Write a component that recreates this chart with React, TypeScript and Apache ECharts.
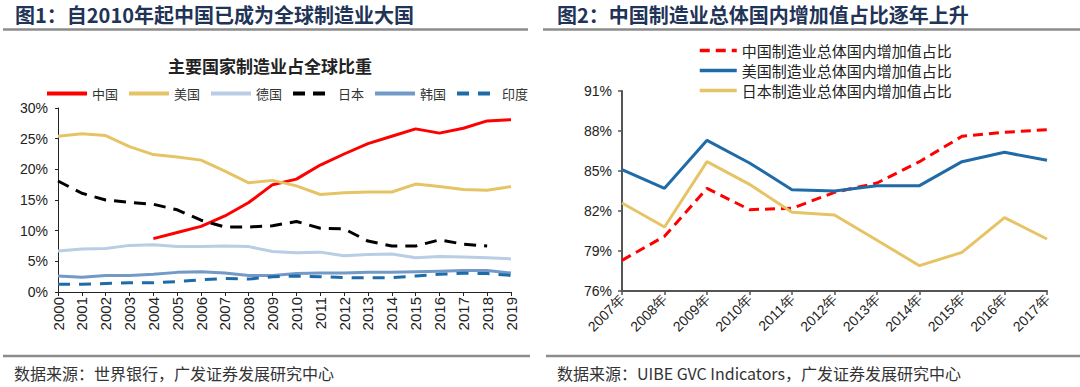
import React, { useEffect, useRef } from "react";
import * as echarts from "echarts";

const years1 = ["2000","2001","2002","2003","2004","2005","2006","2007","2008","2009","2010","2011","2012","2013","2014","2015","2016","2017","2018","2019"];
const china = [null,null,null,null,8.7,9.7,10.7,12.4,14.6,17.5,18.4,20.7,22.5,24.2,25.4,26.6,25.9,26.7,27.9,28.1];
const usa = [25.4,25.8,25.5,23.7,22.4,22.0,21.5,19.7,17.8,18.2,17.3,15.9,16.2,16.3,16.3,17.6,17.2,16.7,16.6,17.2];
const germany = [6.7,7.0,7.1,7.6,7.7,7.4,7.4,7.5,7.4,6.6,6.4,6.5,5.9,6.1,6.2,5.6,5.8,5.7,5.6,5.4];
const japan = [18.1,16.1,15.0,14.6,14.3,13.4,11.7,10.6,10.6,10.8,11.5,10.4,10.3,8.3,7.5,7.5,8.5,7.8,7.5,null];
const korea = [2.6,2.4,2.7,2.7,2.9,3.2,3.3,3.1,2.7,2.7,3.0,3.1,3.1,3.2,3.2,3.3,3.4,3.5,3.5,3.1];
const india = [1.25,1.25,1.4,1.5,1.5,1.7,2.0,2.2,2.1,2.5,2.6,2.5,2.35,2.3,2.35,2.6,2.9,3.05,3.0,2.7];
const names1 = ["中国","美国","德国","日本","韩国","印度"];

const years2 = ["2007年","2008年","2009年","2010年","2011年","2012年","2013年","2014年","2015年","2016年","2017年"];
const cnShare = [78.3,80.1,83.7,82.1,82.2,83.4,84.1,85.7,87.6,87.9,88.1];
const usShare = [85.1,83.7,87.3,85.6,83.6,83.5,83.9,83.9,85.7,86.4,85.8];
const jpShare = [82.6,80.8,85.7,84.0,81.9,81.7,79.8,77.9,78.9,81.5,79.9];
const names2 = ["中国制造业总体国内增加值占比","美国制造业总体国内增加值占比","日本制造业总体国内增加值占比"];

const title1 = "图1：自2010年起中国已成为全球制造业大国";
const title2 = "图2：中国制造业总体国内增加值占比逐年上升";
const subtitle1 = "主要国家制造业占全球比重";
const source1 = "数据来源：世界银行，广发证券发展研究中心";
const source2 = "数据来源：UIBE GVC Indicators，广发证券发展研究中心";

const CJK = '"Noto Sans CJK SC", "Liberation Sans", sans-serif';
const NUM = '"Liberation Sans", Arial, sans-serif';
const YELLOW = "#E6C465";
const HIDDEN_SYMBOL = { color: "rgba(0,0,0,0)", borderColor: "rgba(0,0,0,0)", borderWidth: 0, opacity: 0 };

export default function App() {
  const ref = useRef<HTMLDivElement>(null);
  useEffect(() => {
    if (!ref.current) return;
    const chart = echarts.init(ref.current, null, { renderer: "svg" });
    const line = (name: string, data: any[], color: string, xi: number, dash?: any) => ({
      name, type: "line", data, xAxisIndex: xi, yAxisIndex: xi,
      symbol: "none", showSymbol: false, connectNulls: false,
      lineStyle: { color, width: 3, type: dash || "solid" },
      itemStyle: { color },
      z: 2,
    });
    chart.setOption({
      animation: false,
      textStyle: { fontFamily: NUM },
      grid: [
        { left: 58, top: 108, width: 453, height: 184 },
        { left: 622, top: 91, width: 425, height: 200 },
      ],
      xAxis: [
        {
          type: "category", data: years1, gridIndex: 0, boundaryGap: false,
          axisLine: { lineStyle: { color: "#222", width: 1 } },
          axisTick: { show: true, length: 4, lineStyle: { color: "#222" } },
          axisLabel: { rotate: 90, fontSize: 15, color: "#222", fontFamily: NUM, margin: 5, interval: 0 },
        },
        {
          type: "category", data: years2, gridIndex: 1, boundaryGap: false,
          axisLine: { lineStyle: { color: "#555", width: 2 } },
          axisTick: { show: true, length: 4, lineStyle: { color: "#555", width: 1.5 } },
          axisLabel: { rotate: 45, fontSize: 14, color: "#222", fontFamily: NUM, margin: 6, interval: 0 },
        },
      ],
      yAxis: [
        {
          type: "value", gridIndex: 0, min: 0, max: 30, interval: 5,
          splitLine: { show: false },
          axisLine: { show: true, lineStyle: { color: "#222", width: 1 } },
          axisTick: { show: true, length: 3, lineStyle: { color: "#222" } },
          axisLabel: { formatter: "{value}%", fontSize: 14, color: "#222", fontFamily: NUM, margin: 10 },
        },
        {
          type: "value", gridIndex: 1, min: 76, max: 91, interval: 3,
          splitLine: { show: false },
          axisLine: { show: true, lineStyle: { color: "#555", width: 2 } },
          axisTick: { show: true, length: 4, lineStyle: { color: "#555", width: 1.5 } },
          axisLabel: { formatter: "{value}%", fontSize: 14, color: "#222", fontFamily: NUM, margin: 10 },
        },
      ],
      legend: [
        {
          data: names1, left: 40, top: 82, itemWidth: 40, itemHeight: 14, itemGap: 9,
          lineStyle: { width: 4 },
          itemStyle: HIDDEN_SYMBOL,
          textStyle: { fontSize: 13, color: "#333", fontFamily: CJK },
        },
        {
          data: names2, orient: "vertical", left: 693, top: 37, itemWidth: 37, itemHeight: 14, itemGap: 3,
          lineStyle: { width: 3.5 },
          itemStyle: HIDDEN_SYMBOL,
          textStyle: { fontSize: 15, lineHeight: 17, color: "#222", fontFamily: CJK },
        },
      ],
      series: [
        line(names1[0], china, "#FF0000", 0),
        line(names1[1], usa, YELLOW, 0),
        line(names1[2], germany, "#B9CDE5", 0),
        line(names1[3], japan, "#000000", 0, [12, 8]),
        line(names1[4], korea, "#7399C6", 0),
        line(names1[5], india, "#1E6BAA", 0, [12, 9]),
        line(names2[0], cnShare, "#FF0000", 1, [10, 6]),
        line(names2[1], usShare, "#1F6BA8", 1),
        line(names2[2], jpShare, YELLOW, 1),
      ],
      graphic: [
        { type: "text", left: 15, top: 4, style: { text: title1, fontSize: 20, fontWeight: "bold", fill: "#1F3457", fontFamily: CJK } },
        { type: "text", left: 557, top: 4, style: { text: title2, fontSize: 20, fontWeight: "bold", fill: "#1F3457", fontFamily: CJK } },
        { type: "line", shape: { x1: 3, y1: 29.5, x2: 528, y2: 29.5 }, style: { stroke: "#8C8C8C", lineWidth: 2.5 } },
        { type: "line", shape: { x1: 543, y1: 29.5, x2: 1080, y2: 29.5 }, style: { stroke: "#8C8C8C", lineWidth: 2.5 } },
        { type: "text", x: 270, y: 65, style: { text: subtitle1, fontSize: 17, fontWeight: "bold", fill: "#222", fontFamily: CJK, align: "center", verticalAlign: "middle" } },
        { type: "line", shape: { x1: 3, y1: 356, x2: 530, y2: 356 }, style: { stroke: "#8C8C8C", lineWidth: 2.5 } },
        { type: "line", shape: { x1: 546, y1: 356, x2: 1080, y2: 356 }, style: { stroke: "#8C8C8C", lineWidth: 2.5 } },
        { type: "text", x: 14, y: 373, style: { text: source1, fontSize: 16, fill: "#333", fontFamily: CJK, verticalAlign: "middle" } },
        { type: "text", x: 557, y: 373, style: { text: source2, fontSize: 16, fill: "#333", fontFamily: CJK, verticalAlign: "middle" } },
      ],
    });
    return () => chart.dispose();
  }, []);
  return (
    <div
      ref={ref}
      style={{ position: "fixed", left: 0, top: 0, width: 1080, height: 387, background: "#fff" }}
    />
  );
}
